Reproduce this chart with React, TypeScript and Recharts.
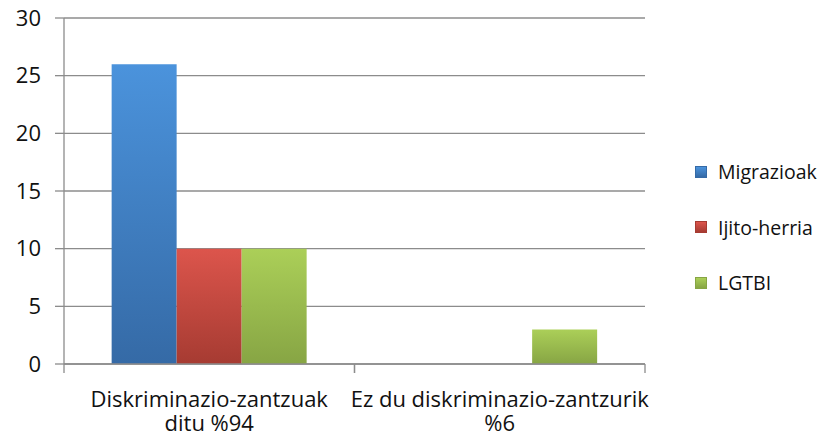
import { BarChart, Bar, XAxis, YAxis, CartesianGrid } from "recharts";

const categories = ["Diskriminazio-zantzuak|ditu %94", "Ez du diskriminazio-zantzurik|%6"];
const migrazioak = [26, 0];
const ijitoHerria = [10, 0];
const lgtbi = [10, 3];
const yTicks = [0, 5, 10, 15, 20, 25, 30];

const series = [
  { key: "migrazioak", name: "Migrazioak", top: "#4b93dc", bottom: "#356aa6" },
  { key: "ijitoHerria", name: "Ijito-herria", top: "#dc554c", bottom: "#a63b32" },
  { key: "lgtbi", name: "LGTBI", top: "#abcf58", bottom: "#87a544" },
];

const data = categories.map((c, i) => ({
  name: c,
  migrazioak: migrazioak[i],
  ijitoHerria: ijitoHerria[i],
  lgtbi: lgtbi[i],
}));

const FONT = "'Open Sans', sans-serif";
const WIDTH = 826;
const HEIGHT = 435;
const LEFT = 64;
const RIGHT = 181;
const BAND = (WIDTH - LEFT - RIGHT) / categories.length;

// two-line category label plus the tick marks at the band edges
function CategoryTick(props: any) {
  const { x, y, payload } = props;
  const lines = String(payload.value).split("|");
  return (
    <g>
      <line x1={x - BAND / 2} x2={x - BAND / 2} y1={y - 8} y2={y + 1} stroke="#8c8c8c" strokeWidth={1.3} />
      <line x1={x + BAND / 2} x2={x + BAND / 2} y1={y - 8} y2={y + 1} stroke="#8c8c8c" strokeWidth={1.3} />
      {lines.map((l, i) => (
        <text key={i} x={x} y={y + 35 + i * 24} textAnchor="middle" fontFamily={FONT} fontSize={22} fill="#111">
          {l}
        </text>
      ))}
    </g>
  );
}

export default function App() {
  return (
    <div style={{ position: "absolute", left: 0, top: 0, width: WIDTH, height: HEIGHT, background: "#fff" }}>
      <BarChart
        width={WIDTH}
        height={HEIGHT}
        data={data}
        margin={{ top: 18, right: RIGHT, bottom: 0, left: 0 }}
        barCategoryGap="16.4%"
        barGap={0}
      >
        <defs>
          {series.map((s) => (
            <linearGradient key={s.key} id={`g-${s.key}`} x1="0" y1="0" x2="0" y2="1">
              <stop offset="0%" stopColor={s.top} />
              <stop offset="100%" stopColor={s.bottom} />
            </linearGradient>
          ))}
        </defs>
        <CartesianGrid vertical={false} stroke="#8c8c8c" strokeWidth={1.3} />
        <XAxis
          dataKey="name"
          height={71}
          tickLine={false}
          axisLine={{ stroke: "#8c8c8c", strokeWidth: 1.3 }}
          tick={<CategoryTick />}
          interval={0}
        />
        <YAxis
          width={LEFT}
          domain={[0, 30]}
          ticks={yTicks}
          tickSize={9}
          tickMargin={14}
          tickLine={{ stroke: "#8c8c8c", strokeWidth: 1.3 }}
          axisLine={{ stroke: "#8c8c8c", strokeWidth: 1.3 }}
          tick={{ fontFamily: FONT, fontSize: 22, fill: "#111" }}
        />
        {series.map((s) => (
          <Bar key={s.key} dataKey={s.key} name={s.name} fill={`url(#g-${s.key})`} isAnimationActive={false} />
        ))}
      </BarChart>
      <div style={{ position: "absolute", left: 695, top: 144, fontFamily: FONT, fontSize: 19.5, color: "#111" }}>
        {series.map((s) => (
          <div key={s.key} style={{ display: "flex", alignItems: "center", height: 55.5 }}>
            <span
              style={{
                display: "inline-block",
                width: 12,
                height: 12,
                marginRight: 11,
                background: `linear-gradient(${s.top}, ${s.bottom})`,
                border: `1px solid ${s.bottom}`,
                boxSizing: "border-box",
              }}
            />
            {s.name}
          </div>
        ))}
      </div>
    </div>
  );
}
